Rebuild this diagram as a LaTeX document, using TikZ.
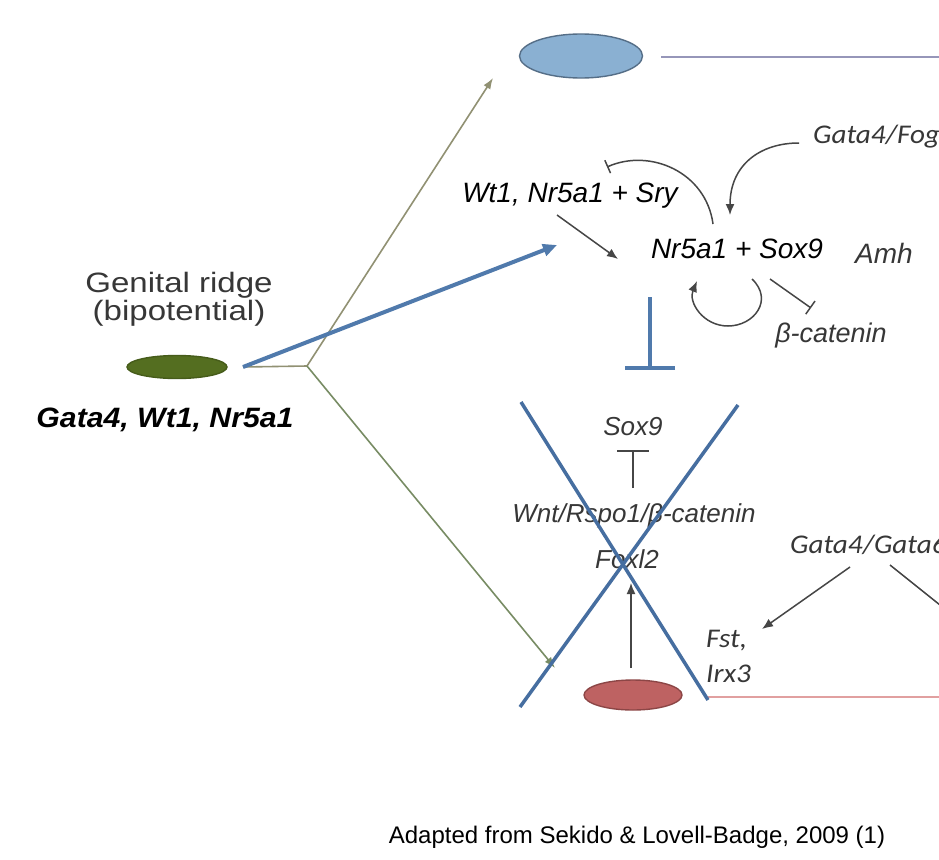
\documentclass[tikz,border=0pt]{standalone}
\usepackage{fontspec}
\setmainfont{Liberation Sans}
\newfontfamily\arialst[FakeStretch=1.18]{Liberation Sans}
\newfontfamily\arialbst[FakeStretch=1.08]{Liberation Sans}
\newfontfamily\calib[FakeStretch=1.08]{Carlito}
\usetikzlibrary{arrows.meta,shapes.geometric}
\definecolor{ellblue}{RGB}{138,176,210}
\definecolor{ellblueb}{RGB}{85,110,135}
\definecolor{ellgreen}{RGB}{84,110,32}
\definecolor{ellgreenb}{RGB}{70,92,26}
\definecolor{ellred}{RGB}{190,98,98}
\definecolor{ellredb}{RGB}{140,70,70}
\definecolor{topline}{RGB}{150,150,185}
\definecolor{botline}{RGB}{225,160,160}
\definecolor{thickblue}{RGB}{80,122,172}
\definecolor{xblue}{RGB}{70,110,160}
\definecolor{txtgray}{RGB}{55,55,55}
\definecolor{branchA}{RGB}{145,145,115}
\definecolor{branchB}{RGB}{120,140,100}
\definecolor{linegray}{RGB}{70,70,70}
\tikzset{
  cell/.style={ellipse, inner sep=0pt, line width=1.4pt},
  basetxt/.style={anchor=base, inner sep=0pt},
  arialit/.style={basetxt, font=\fontsize{28}{30}\selectfont\itshape},
  grayit/.style={basetxt, text=txtgray, font=\fontsize{27}{30}\selectfont\itshape},
  calit/.style={basetxt, text=txtgray, font=\calib\fontsize{27}{30}\selectfont\itshape},
  act/.style={draw=linegray, line width=1.5pt, -{Latex[length=11pt,width=9pt]}},
  inh/.style={draw=linegray, line width=1.5pt},
  branch/.style={line width=1.6pt, -{Latex[length=11pt,width=8pt]}},
}
\begin{document}
\begin{tikzpicture}[x=1pt,y=-1pt]
\useasboundingbox (0,0) rectangle (939,859);
\clip (0,0) rectangle (939,859);
\fill[white] (0,0) rectangle (939,859);

% cells
\node[cell, fill=ellblue, draw=ellblueb, minimum width=123pt, minimum height=44pt] (male) at (581,56) {};
\node[cell, fill=ellgreen, draw=ellgreenb, minimum width=100pt, minimum height=23pt] (gonad) at (177,367) {};
\node[cell, fill=ellred, draw=ellredb, minimum width=98pt, minimum height=30pt] (female) at (633,695) {};

% coordinates
\coordinate (topA) at (661,57);
\coordinate (topB) at (945,57);
\coordinate (botA) at (708,697);
\coordinate (botB) at (945,697);
\coordinate (stub) at (243,367);
\coordinate (vertex) at (307,366);
\coordinate (upTip) at (493,78);
\coordinate (downTip) at (555,668);
\coordinate (blueTip) at (557,245);

\draw[topline, line width=2pt] (topA) -- (topB);
\draw[botline, line width=2pt] (botA) -- (botB);

% left texts
\node[basetxt, text=txtgray, font=\arialst\fontsize{28}{30}\selectfont] (gr1) at (179,292) {Genital ridge};
\node[basetxt, text=txtgray, font=\arialst\fontsize{28}{30}\selectfont] (gr2) at (179,320) {(bipotential)};
\node[basetxt, font=\arialbst\fontsize{28}{30}\selectfont\bfseries\itshape] (gfac) at (165,427) {Gata4, Wt1, Nr5a1};

% branches
\draw[branchA, line width=1.6pt] (stub) -- (vertex);
\draw[branch, branchA] (vertex) -- (upTip);
\draw[branch, branchB] (vertex) -- (downTip);
\draw[thickblue, line width=4pt, -{Triangle[length=14pt,width=12pt]}] (stub) -- (blueTip);

% male pathway
\node[calit, anchor=base west] (fog) at (813,143) {Gata4/Fog2};
\coordinate (fogS) at (799,143);
\coordinate (fogT) at (730,215);
\draw[act] (fogS) .. controls (760,143) and (730,165) .. (fogT);

\coordinate (arcS) at (713,224);
\coordinate (arcT) at (607,167);
\draw[inh, -{Bar[width=14pt]}] (arcS) .. controls (706,172) and (650,148) .. (arcT);

\node[arialit, fill=white, inner sep=2pt] (wt) at (570,202) {Wt1, Nr5a1 + Sry};
\coordinate (wtA) at (557,215);
\coordinate (wtB) at (618,259);
\draw[act] (wtA) -- (wtB);

\node[arialit, fill=white, inner ysep=6pt, inner xsep=12pt] (sox) at (737,258) {Nr5a1 + Sox9};
\node[grayit, font=\fontsize{28}{30}\selectfont\itshape] (amh) at (884,263) {Amh};
\node[grayit] (bcat) at (831,342) {β-catenin};

\coordinate (loopS) at (752,279);
\coordinate (loopT) at (697,281);
\draw[act] (loopS) .. controls (774,300) and (754,326) .. (728,326) .. controls (703,326) and (688,302) .. (loopT);

\coordinate (biA) at (770,279);
\coordinate (biB) at (811,308);
\draw[inh, -{Bar[width=16pt]}] (biA) -- (biB);

\coordinate (bigA) at (650,297);
\coordinate (bigB) at (650,370);
\draw[thickblue, line width=4pt, -{Bar[width=50pt]}] (bigA) -- (bigB);

% female pathway (crossed out)
\node[grayit, font=\fontsize{26}{30}\selectfont\itshape] (sox9b) at (633,435) {Sox9};
\coordinate (tA) at (633,488);
\coordinate (tB) at (633,450);
\draw[inh, -{Bar[width=32pt]}] (tA) -- (tB);
\node[grayit, font=\fontsize{26}{30}\selectfont\itshape] (wnt) at (634,522) {Wnt/Rspo1/β-catenin};
\node[grayit, font=\fontsize{26}{30}\selectfont\itshape] (foxl2) at (627,568) {Foxl2};
\coordinate (fxA) at (631,668);
\coordinate (fxB) at (631,583);
\draw[act] (fxA) -- (fxB);

\node[calit, anchor=base west] (g46) at (790,553) {Gata4/Gata6};
\node[calit, anchor=base west] (fst) at (706,647) {Fst,};
\node[calit, anchor=base west] (irx) at (706,682) {Irx3};
\coordinate (gA) at (850,567);
\coordinate (gB) at (762,629);
\coordinate (gC) at (890,565);
\coordinate (gD) at (955,617);
\draw[act] (gA) -- (gB);
\draw[inh] (gC) -- (gD);

% the cross
\coordinate (x1a) at (521,402);
\coordinate (x1b) at (708,700);
\coordinate (x2a) at (738,405);
\coordinate (x2b) at (520,707);
\draw[xblue, line width=3.5pt] (x1a) -- (x1b);
\draw[xblue, line width=3.5pt] (x2a) -- (x2b);

% footer
\node[basetxt, font=\fontsize{24}{28}\selectfont] (cite) at (637,843) {Adapted from Sekido \& Lovell-Badge, 2009 (1)};
\end{tikzpicture}
\end{document}
